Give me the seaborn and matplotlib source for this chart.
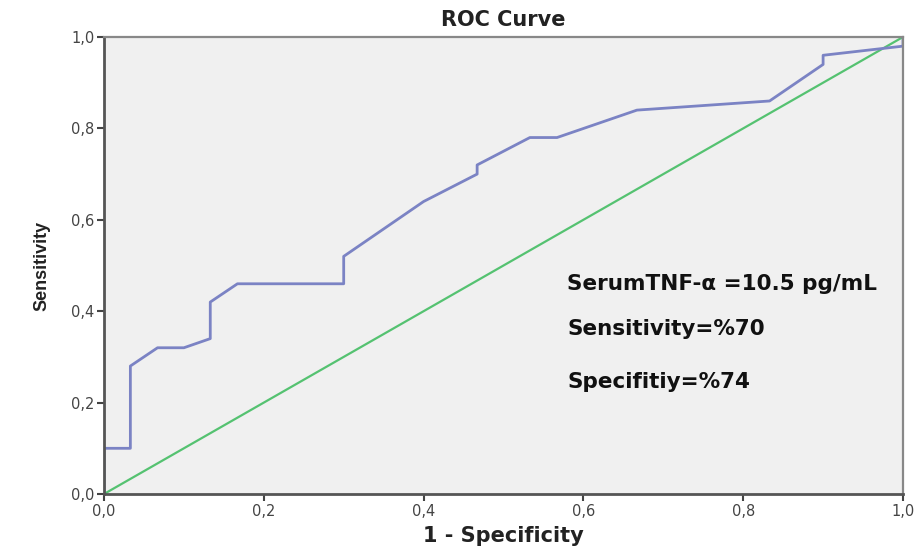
import matplotlib
matplotlib.use("Agg")
import matplotlib.pyplot as plt
import matplotlib.ticker as mticker
import seaborn as sns
import pandas as pd

# ROC curve coordinates: 1 - specificity and sensitivity
fpr = [0.0, 0.0, 0.033, 0.033, 0.067, 0.100, 0.133, 0.133, 0.167, 0.300, 0.300,
       0.400, 0.467, 0.467, 0.533, 0.567, 0.667, 0.833, 0.900, 0.900, 1.0, 1.0]
tpr = [0.0, 0.10, 0.10, 0.28, 0.32, 0.32, 0.34, 0.42, 0.46, 0.46, 0.52,
       0.64, 0.70, 0.72, 0.78, 0.78, 0.84, 0.86, 0.94, 0.96, 0.98, 1.0]

# Reference diagonal
diag_x = [0.0, 1.0]
diag_y = [0.0, 1.0]

ticks = [0.0, 0.2, 0.4, 0.6, 0.8, 1.0]
notes = ["SerumTNF-\u03b1 =10.5 pg/mL", "Sensitivity=%70", "Specifitiy=%74"]

sns.set_style("white")
plt.rcParams["font.family"] = ["DejaVu Sans"]

fig = plt.figure(figsize=(9.2, 5.49), dpi=100)
ax = fig.add_axes([104 / 920, 1 - 494 / 549, (903 - 104) / 920, (494 - 37) / 549])
ax.set_facecolor("#f0f0f0")

roc = pd.DataFrame({"fpr": fpr, "tpr": tpr})
ref = pd.DataFrame({"x": diag_x, "y": diag_y})
sns.lineplot(data=ref, x="x", y="y", sort=False, estimator=None,
             color="#55c271", lw=1.6, ax=ax)
sns.lineplot(data=roc, x="fpr", y="tpr", sort=False, estimator=None,
             color="#7b83c4", lw=2.0, ax=ax)

ax.set_xlim(0, 1)
ax.set_ylim(0, 1)
ax.set_xticks(ticks)
ax.set_yticks(ticks)
fmt = mticker.FuncFormatter(lambda v, p: f"{v:.1f}".replace(".", ","))
ax.xaxis.set_major_formatter(fmt)
ax.yaxis.set_major_formatter(fmt)
ax.tick_params(axis="both", direction="out", length=5, width=1.5, color="#444444",
               labelsize=10.5, labelcolor="#444444", pad=2,
               bottom=True, left=True)

for side in ["left", "bottom"]:
    ax.spines[side].set_color("#555555")
    ax.spines[side].set_linewidth(2.0)
for side in ["top", "right"]:
    ax.spines[side].set_color("#888888")
    ax.spines[side].set_linewidth(1.6)

ax.set_title("ROC Curve", fontsize=15, fontweight="bold", pad=8, color="#222222")
ax.set_xlabel("1 - Specificity", fontsize=15, fontweight="bold", labelpad=5,
              color="#222222")
ax.set_ylabel("Sensitivity", fontsize=13, fontweight="bold", labelpad=15,
              family="Liberation Sans", color="#222222")

for txt, yv in zip(notes, [0.46, 0.36, 0.245]):
    ax.text(0.58, yv, txt, fontsize=15.5, fontweight="bold",
            color="#111111", va="center", ha="left")

fig.savefig("out.png", dpi=100)
